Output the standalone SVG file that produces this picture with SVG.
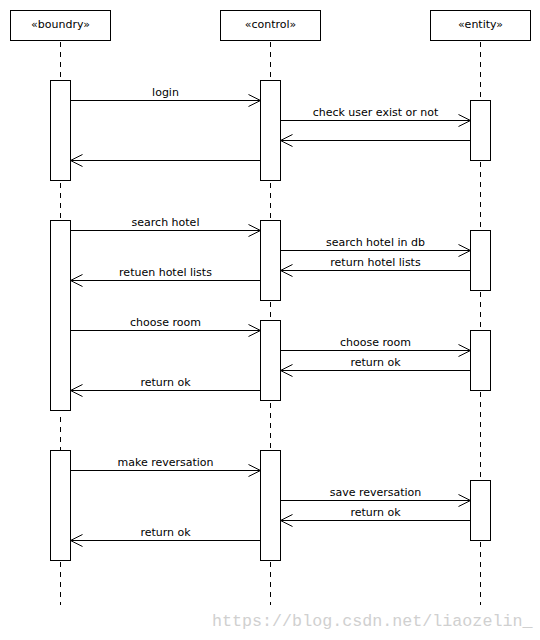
<svg xmlns="http://www.w3.org/2000/svg" width="540" height="640" viewBox="0 0 540 640">
  <style>
    .box { fill: #ffffff; stroke: #000000; stroke-width: 1; }
    .life { stroke: #000000; stroke-width: 1; stroke-dasharray: 5 5; fill: none; }
    .msg { stroke: #000000; stroke-width: 1; fill: none; marker-end: url(#open); }
    .t { font-family: "DejaVu Sans", "Liberation Sans", sans-serif; font-size: 11px; fill: #000000; text-anchor: middle; }
    .wm { font-family: "Liberation Mono", "DejaVu Sans Mono", monospace; font-size: 16.7px; fill: #d0d0d0; }
  </style>
  <defs>
    <marker id="open" markerUnits="userSpaceOnUse" markerWidth="14" markerHeight="14" refX="12" refY="6" orient="auto" overflow="visible">
      <path d="M0,0 L12,6 L0,12" fill="none" stroke="#000000" stroke-width="1"/>
    </marker>
  </defs>
  <rect width="540" height="640" fill="#ffffff"/>

  <g id="boundry">
    <rect class="box" x="10.5" y="10.5" width="100" height="30"/>
    <text class="t" x="60.5" y="28">«boundry»</text>
    <path class="life" d="M60.5,42 V80 M60.5,183 V220 M60.5,417 V450 M60.5,562 V605"/>
    <rect class="box" x="50.5" y="80.5" width="20" height="100"/>
    <rect class="box" x="50.5" y="220.5" width="20" height="190"/>
    <rect class="box" x="50.5" y="450.5" width="20" height="110"/>
  </g>

  <g id="control">
    <rect class="box" x="220.5" y="10.5" width="100" height="30"/>
    <text class="t" x="270.5" y="28">«control»</text>
    <path class="life" d="M270.5,42 V80 M270.5,183 V220 M270.5,302 V320 M270.5,403 V450 M270.5,562 V605"/>
    <rect class="box" x="260.5" y="80.5" width="20" height="100"/>
    <rect class="box" x="260.5" y="220.5" width="20" height="80"/>
    <rect class="box" x="260.5" y="320.5" width="20" height="80"/>
    <rect class="box" x="260.5" y="450.5" width="20" height="110"/>
  </g>

  <g id="entity">
    <rect class="box" x="430.5" y="10.5" width="100" height="30"/>
    <text class="t" x="480.5" y="28">«entity»</text>
    <path class="life" d="M480.5,42 V100 M480.5,162 V230 M480.5,292 V330 M480.5,392 V480 M480.5,542 V605"/>
    <rect class="box" x="470.5" y="100.5" width="20" height="60"/>
    <rect class="box" x="470.5" y="230.5" width="20" height="60"/>
    <rect class="box" x="470.5" y="330.5" width="20" height="60"/>
    <rect class="box" x="470.5" y="480.5" width="20" height="60"/>
  </g>

  <g id="connectors">
    <path class="msg" d="M71,100.5 H260.5"/>
    <text class="t" x="165.5" y="96">login</text>
    <path class="msg" d="M281,120.5 H470.5"/>
    <text class="t" x="375.5" y="116">check user exist or not</text>
    <path class="msg" d="M470,140.5 H280.5"/>
    <path class="msg" d="M260,160.5 H70.5"/>

    <path class="msg" d="M71,230.5 H260.5"/>
    <text class="t" x="165.5" y="226">search hotel</text>
    <path class="msg" d="M281,250.5 H470.5"/>
    <text class="t" x="375.5" y="246">search hotel in db</text>
    <path class="msg" d="M470,270.5 H280.5"/>
    <text class="t" x="375.5" y="266">return hotel lists</text>
    <path class="msg" d="M260,280.5 H70.5"/>
    <text class="t" x="165.5" y="276">retuen hotel lists</text>

    <path class="msg" d="M71,330.5 H260.5"/>
    <text class="t" x="165.5" y="326">choose room</text>
    <path class="msg" d="M281,350.5 H470.5"/>
    <text class="t" x="375.5" y="346">choose room</text>
    <path class="msg" d="M470,370.5 H280.5"/>
    <text class="t" x="375.5" y="366">return ok</text>
    <path class="msg" d="M260,390.5 H70.5"/>
    <text class="t" x="165.5" y="386">return ok</text>

    <path class="msg" d="M71,470.5 H260.5"/>
    <text class="t" x="165.5" y="466">make reversation</text>
    <path class="msg" d="M281,500.5 H470.5"/>
    <text class="t" x="375.5" y="496">save reversation</text>
    <path class="msg" d="M470,520.5 H280.5"/>
    <text class="t" x="375.5" y="516">return ok</text>
    <path class="msg" d="M260,540.5 H70.5"/>
    <text class="t" x="165.5" y="536">return ok</text>
  </g>

  <text class="wm" x="212" y="626">https://blog.csdn.net/liaozelin_</text>
</svg>
